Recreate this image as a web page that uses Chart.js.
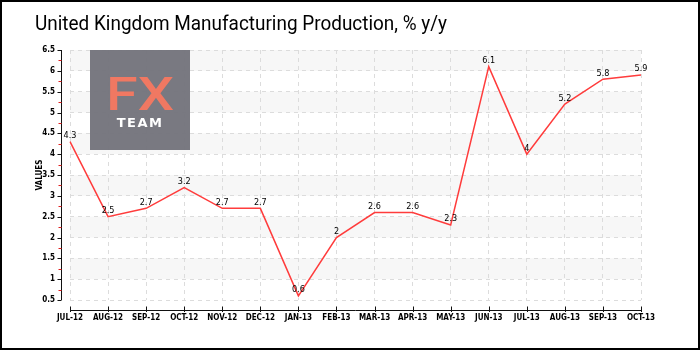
<!DOCTYPE html>
<html>
<head>
<meta charset="utf-8">
<script src="https://cdn.jsdelivr.net/npm/chart.js@4.4.1/dist/chart.umd.min.js"></script>
<style>
  html, body { margin: 0; padding: 0; background: #fff; }
  #wrap { width: 700px; height: 350px; position: relative; }
</style>
</head>
<body>
<div id="wrap"><canvas id="mfgChart" width="700" height="350"></canvas></div>
<script>
// ---- data ----
const months = ['JUL-12', 'AUG-12', 'SEP-12', 'OCT-12', 'NOV-12', 'DEC-12', 'JAN-13', 'FEB-13',
  'MAR-13', 'APR-13', 'MAY-13', 'JUN-13', 'JUL-13', 'AUG-13', 'SEP-13', 'OCT-13'];
const production = [4.3, 2.5, 2.7, 3.2, 2.7, 2.7, 0.6, 2, 2.6, 2.6, 2.3, 6.1, 4, 5.2, 5.8, 5.9];
const yMin = 0.5;
const yMax = 6.5;
const yStep = 0.5;

const TITLE = 'United Kingdom Manufacturing Production, % y/y';
const LINE_RED = '#ff3c3c';
const SMALL_FAMILY = '"DejaVu Sans Condensed", "DejaVu Sans", sans-serif';

const isMajor = v => Math.abs(v / yStep - Math.round(v / yStep)) < 1e-6;

// background, alternating bands, frame, title, logo, axes, value labels
const decorPlugin = {
  id: 'decor',
  beforeDraw(chart) {
    const { ctx, chartArea: a, scales: { y } } = chart;
    ctx.save();
    ctx.fillStyle = '#fff';
    ctx.fillRect(0, 0, chart.width, chart.height);
    ctx.fillStyle = '#f7f7f7';
    for (let v = Math.ceil(yMin); v + yStep <= yMax; v += 1) {
      const top = y.getPixelForValue(v + yStep);
      const bot = y.getPixelForValue(v);
      ctx.fillRect(a.left, top, a.right - a.left, bot - top);
    }
    // title, squeezed to a narrow face
    ctx.fillStyle = '#000';
    ctx.font = '21px Roboto, "DejaVu Sans", sans-serif';
    ctx.textBaseline = 'alphabetic';
    ctx.textAlign = 'left';
    const w = ctx.measureText(TITLE).width;
    ctx.translate(35, 30);
    ctx.scale(412 / w, 1);
    ctx.fillText(TITLE, 0, 0);
    ctx.restore();
  },
  beforeDatasetsDraw(chart) {
    const { ctx } = chart;
    // FX TEAM badge
    ctx.save();
    ctx.fillStyle = 'rgba(116,116,124,0.96)';
    ctx.fillRect(90, 50, 100, 100);
    ctx.fillStyle = '#f07862';
    ctx.font = '500 46px Roboto, "DejaVu Sans", sans-serif';
    ctx.textAlign = 'center';
    ctx.textBaseline = 'alphabetic';
    ctx.translate(140, 110);
    ctx.scale(1.25, 1);
    ctx.fillText('FX', 0, 0);
    ctx.restore();
    ctx.save();
    ctx.fillStyle = '#fff';
    ctx.font = 'bold 13px "DejaVu Sans", sans-serif';
    ctx.letterSpacing = '1.5px';
    ctx.textAlign = 'center';
    ctx.textBaseline = 'alphabetic';
    ctx.fillText('TEAM', 140, 127);
    ctx.restore();
  },
  afterDraw(chart) {
    const { ctx, chartArea: a, scales: { x, y } } = chart;
    ctx.save();
    ctx.strokeStyle = '#111';
    ctx.lineWidth = 1;
    // y axis, pulled left of the plot
    const ax = 61.5;
    ctx.beginPath();
    ctx.moveTo(ax, a.top);
    ctx.lineTo(ax, a.bottom);
    ctx.stroke();
    y.ticks.forEach(t => {
      const py = Math.round(y.getPixelForValue(t.value)) + 0.5;
      ctx.strokeStyle = isMajor(t.value) ? '#111' : '#e02020';
      ctx.beginPath();
      ctx.moveTo(isMajor(t.value) ? ax - 4 : ax - 3, py);
      ctx.lineTo(ax, py);
      ctx.stroke();
    });
    // x axis, pushed below the plot
    const ay = 310.5;
    ctx.strokeStyle = '#111';
    ctx.beginPath();
    ctx.moveTo(a.left, ay);
    ctx.lineTo(a.right, ay);
    ctx.stroke();
    x.ticks.forEach((t, i) => {
      const px = Math.round(x.getPixelForTick(i)) + 0.5;
      ctx.beginPath();
      ctx.moveTo(px, ay - 4);
      ctx.lineTo(px, ay + 1.5);
      ctx.stroke();
    });
    // value labels
    const meta = chart.getDatasetMeta(0);
    ctx.fillStyle = '#000';
    ctx.font = '9px ' + SMALL_FAMILY;
    ctx.textAlign = 'center';
    ctx.textBaseline = 'middle';
    meta.data.forEach((pt, i) => {
      ctx.fillText(String(production[i]), pt.x, pt.y - 6);
    });
    // outer frame
    ctx.strokeStyle = '#000';
    ctx.lineWidth = 2;
    ctx.strokeRect(1, 1, chart.width - 2, chart.height - 2);
    ctx.restore();
  }
};

new Chart(document.getElementById('mfgChart'), {
  type: 'line',
  data: {
    labels: months,
    datasets: [{
      data: production,
      borderColor: LINE_RED,
      borderWidth: 1.5,
      pointRadius: 0,
      tension: 0,
      fill: false
    }]
  },
  options: {
    responsive: false,
    animation: false,
    layout: { padding: { top: 50, right: 59, left: 0, bottom: 0 } },
    plugins: {
      legend: { display: false },
      title: { display: false },
      tooltip: { enabled: false }
    },
    scales: {
      x: {
        offset: false,
        afterFit: s => { s.height = 50; },
        grid: { color: '#dcdcdc', drawTicks: false },
        border: { display: false, dash: [4, 4] },
        ticks: {
          color: '#000',
          font: { family: SMALL_FAMILY, size: 8, weight: 'bold' },
          padding: 13,
          maxRotation: 0,
          autoSkip: false
        }
      },
      y: {
        min: yMin,
        max: yMax,
        afterFit: s => { s.width = 70; },
        grid: {
          drawTicks: false,
          color: ctx => (ctx.tick && isMajor(ctx.tick.value)) ? '#dcdcdc' : 'rgba(0,0,0,0)'
        },
        border: { display: false, dash: [4, 4] },
        title: {
          display: true,
          text: 'VALUES',
          color: '#000',
          font: { family: SMALL_FAMILY, size: 8, weight: 'bold' },
          padding: { top: 35, bottom: 0 }
        },
        ticks: {
          stepSize: yStep / 2,
          autoSkip: false,
          color: '#000',
          font: { family: SMALL_FAMILY, size: 8, weight: 'bold' },
          padding: 15,
          callback: v => isMajor(v) ? String(v) : ''
        }
      }
    }
  },
  plugins: [decorPlugin]
});
</script>
</body>
</html>
